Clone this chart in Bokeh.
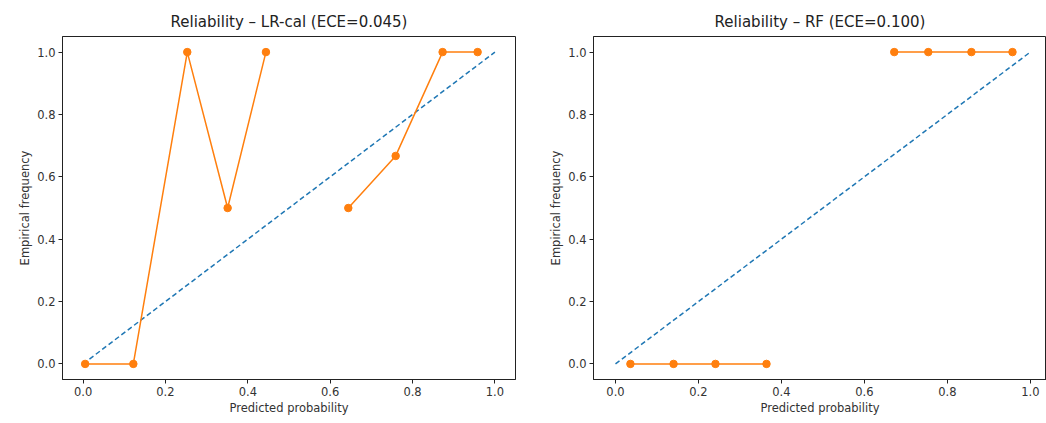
import math
from bokeh.plotting import figure
from bokeh.layouts import row
from bokeh.models import FixedTicker, PrintfTickFormatter, Range1d
from bokeh.embed import file_html
from bokeh.resources import INLINE

NAN = float("nan")

# Left panel: LR-cal reliability curve (NaN marks an empty bin / gap)
lr_pred = [0.005, 0.122, 0.253, 0.351, 0.444, NAN, 0.644, 0.759, 0.873, 0.958]
lr_emp = [0.0, 0.0, 1.0, 0.5, 1.0, NAN, 0.5, 0.667, 1.0, 1.0]

# Right panel: RF reliability curve
rf_pred = [0.036, 0.140, 0.241, 0.364, NAN, 0.672, 0.754, 0.858, 0.957]
rf_emp = [0.0, 0.0, 0.0, 0.0, NAN, 1.0, 1.0, 1.0, 1.0]

diag = [0.0, 1.0]
ticks = [0.0, 0.2, 0.4, 0.6, 0.8, 1.0]

titles = ["Reliability \u2013 LR-cal (ECE=0.045)", "Reliability \u2013 RF (ECE=0.100)"]
x_label = "Predicted probability"
y_label = "Empirical frequency"

ORANGE = "#ff7f0e"
BLUE = "#1f77b4"
FONT = "DejaVu Sans"


def make_panel(title, xs, ys, width, border_left, border_right, x_start, x_end):
    p = figure(width=width, height=423, output_backend="svg", toolbar_location=None,
               x_range=Range1d(x_start, x_end), y_range=Range1d(-0.05, 1.05),
               min_border_left=border_left, min_border_right=border_right,
               min_border_top=36, min_border_bottom=44)
    p.title.text = title
    p.title.align = "center"
    p.title.text_font = FONT
    p.title.text_font_size = "15px"
    p.title.text_font_style = "normal"
    p.title.text_color = "#222222"
    p.title.offset = 0
    p.title.standoff = 11
    p.grid.visible = False
    p.outline_line_color = "#222222"
    p.outline_line_width = 1
    p.background_fill_color = "white"
    p.border_fill_color = "white"
    for ax in (p.xaxis[0], p.yaxis[0]):
        ax.ticker = FixedTicker(ticks=ticks)
        ax.formatter = PrintfTickFormatter(format="%.1f")
        ax.minor_tick_line_color = None
        ax.major_tick_in = 0
        ax.major_tick_out = 4
        ax.major_label_text_font = FONT
        ax.major_label_text_font_size = "11.5px"
        ax.major_label_text_color = "#333333"
        ax.axis_label_text_font = FONT
        ax.axis_label_text_font_size = "11.5px"
        ax.axis_label_text_font_style = "normal"
        ax.axis_label_text_color = "#333333"
        ax.axis_line_color = "#222222"
        ax.major_tick_line_color = "#222222"
        ax.major_label_standoff = 3
        ax.axis_label_standoff = 2
    p.xaxis.axis_label = x_label
    p.yaxis.axis_label = y_label

    p.line(diag, diag, line_color=BLUE, line_width=1.5, line_dash="5 3")
    p.line(xs, ys, line_color=ORANGE, line_width=1.5)
    p.scatter(xs, ys, size=7.5, fill_color=ORANGE, line_color=ORANGE)
    return p


p1 = make_panel(titles[0], lr_pred, lr_emp, 530, 62, 15, -0.05, 1.05)
p2 = make_panel(titles[1], rf_pred, rf_emp, 516, 63, 0, -0.053, 1.039)

layout = row(p1, p2)
open("out.html", "w").write(file_html(layout, INLINE))
